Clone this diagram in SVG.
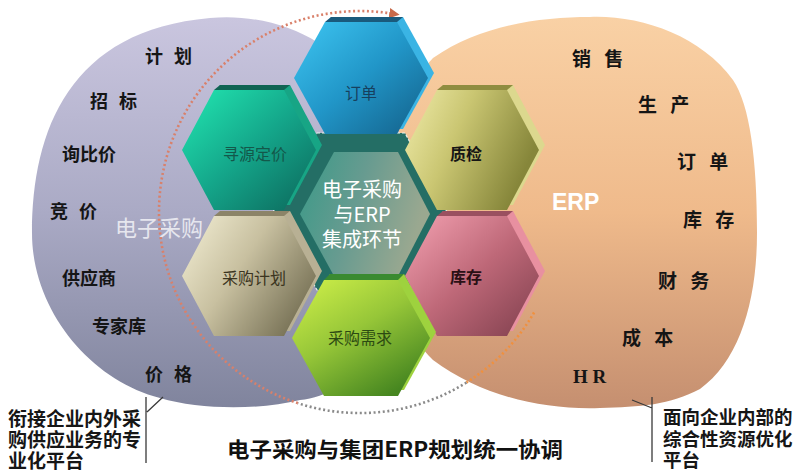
<svg xmlns="http://www.w3.org/2000/svg" width="800" height="472" viewBox="0 0 800 472">
<defs>
<linearGradient id="gLeft" x1="0" y1="0" x2="0" y2="1"><stop offset="0" stop-color="#cac6df"/><stop offset="0.5" stop-color="#aaaac5"/><stop offset="1" stop-color="#80849d"/></linearGradient>
<linearGradient id="gRight" x1="0" y1="0" x2="0" y2="1"><stop offset="0" stop-color="#f9d1a5"/><stop offset="0.5" stop-color="#efba8b"/><stop offset="1" stop-color="#c58f70"/></linearGradient>
<linearGradient id="gDing" x1="0" y1="0" x2="1" y2="1"><stop offset="0" stop-color="#3ec6f2"/><stop offset="0.5" stop-color="#2196c8"/><stop offset="1" stop-color="#135f88"/></linearGradient>
<linearGradient id="gXun" x1="0" y1="0" x2="1" y2="1"><stop offset="0" stop-color="#22e8b2"/><stop offset="0.5" stop-color="#14a68a"/><stop offset="1" stop-color="#0c665a"/></linearGradient>
<linearGradient id="gZhi" x1="0" y1="0" x2="1" y2="0.4"><stop offset="0" stop-color="#f0ecaa"/><stop offset="0.45" stop-color="#cac672"/><stop offset="1" stop-color="#86863a"/></linearGradient>
<linearGradient id="gKu" x1="0" y1="0" x2="1" y2="1"><stop offset="0" stop-color="#f4a2b2"/><stop offset="0.5" stop-color="#be6878"/><stop offset="1" stop-color="#7e3e4c"/></linearGradient>
<linearGradient id="gCai" x1="0" y1="0" x2="1" y2="0.6"><stop offset="0" stop-color="#f4f0d6"/><stop offset="0.5" stop-color="#c8c0a0"/><stop offset="1" stop-color="#7c765a"/></linearGradient>
<linearGradient id="gXu" x1="0" y1="0" x2="0.7" y2="1"><stop offset="0" stop-color="#d2f24a"/><stop offset="0.5" stop-color="#96c638"/><stop offset="1" stop-color="#468620"/></linearGradient>
<linearGradient id="gCen" x1="0" y1="0" x2="1" y2="0.3"><stop offset="0" stop-color="#3a9a88"/><stop offset="0.5" stop-color="#679b90"/><stop offset="1" stop-color="#9aa890"/></linearGradient>
<marker id="arr" viewBox="0 0 10 10" refX="2" refY="5" markerWidth="4" markerHeight="4" orient="auto" markerUnits="strokeWidth"><path d="M0,0 L10,5 L0,10 Z" fill="#c86a4a"/></marker>
<style>
.lbl{font-family:"Noto Sans CJK SC","Noto Sans",sans-serif;font-weight:bold;fill:#151515;dominant-baseline:central}
.l18{font-size:18px}
.l19{font-size:19px}
.sp{word-spacing:7px}
.sp2{word-spacing:9px}
.hx{font-family:"Noto Sans CJK SC","Noto Sans",sans-serif;font-size:16px;text-anchor:middle;dominant-baseline:central}
.call{font-family:"Noto Sans CJK SC","Noto Sans",sans-serif;font-weight:bold;fill:#161616;dominant-baseline:central}
.dot{fill:none;stroke-width:2.6;stroke-dasharray:2 2.6}
.cl{stroke:#3a3a3a;stroke-width:1.3;fill:none}
.dash{fill:none;stroke:#e8f4f0;stroke-width:1.2;stroke-dasharray:3 2}
</style>
</defs>
<rect width="800" height="472" fill="#ffffff"/>

<g id="circle-right">
<path d="M590,17 C640,15 700,35 733,80 C750,105 757,160 757,233 C757,300 740,360 700,389 C670,405 640,407 600,408 C540,410 480,395 433,360 C370,300 370,120 433,58 C480,25 540,17 590,17 Z" fill="url(#gRight)"/>
<text class="lbl l19 sp2" x="572" y="57">销 售</text>
<text class="lbl l19 sp2" x="638" y="103">生 产</text>
<text class="lbl l19 sp2" x="677" y="160">订 单</text>
<text class="lbl l19 sp2" x="683" y="218">库 存</text>
<text class="lbl l19 sp2" x="658" y="279">财 务</text>
<text class="lbl l19 sp2" x="622" y="336">成 本</text>
<text x="573" y="383" font-family="Liberation Serif,serif" font-weight="bold" font-size="19" fill="#151515">H R</text>
<text x="552" y="210" font-family="Liberation Sans,Arial,sans-serif" font-weight="bold" font-size="23" fill="#ffffff">ERP</text>
</g>

<g id="circle-left">
<path d="M32,233 C32,130 70,30 210,18 C250,14 290,25 317,42 C380,80 420,150 420,220 C420,320 360,395 300,400 C260,410 200,410 160,398 C90,380 32,310 32,233 Z" fill="url(#gLeft)"/>
<text class="lbl l18 sp" x="145" y="55">计 划</text>
<text class="lbl l18 sp" x="90" y="100">招 标</text>
<text class="lbl l18" x="62" y="153">询比价</text>
<text class="lbl l18 sp" x="50" y="210">竞 价</text>
<text class="lbl l18" x="62" y="277">供应商</text>
<text class="lbl l18" x="92" y="325">专家库</text>
<text class="lbl l18 sp" x="145" y="373">价 格</text>
<text x="115" y="226" font-family="Noto Sans CJK SC,sans-serif" font-size="22" fill="#e6e6ee" dominant-baseline="central">电子采购</text>
</g>

<g id="connectors">
<path class="dot" stroke="#f0903e" d="M534.1,312.5 A201,201 0 0 1 466.5,382.5"/>
<path class="dot" stroke="#8a8a8a" d="M466.5,382.5 A201,201 0 0 1 297.9,403.2"/>
<path class="dot" stroke="#d9806a" d="M297.9,403.2 A201,201 0 0 1 391.4,13.5" marker-end="url(#arr)"/>
<path class="cl" d="M163,397 L147,412 M146,397 L146,463"/>
<path class="cl" d="M632,400 L652,408 M652,397 L652,462"/>
</g>

<g id="hex-center">
<polygon points="317,133 405,133 447,212 408,290 317,290 273,212" fill="#246e65"/>
<polygon points="317,133 405,133 447,212 408,290 317,290 273,212" class="dash"/>
<polygon points="334,152 398,152 430,214 398,276 334,276 300,214" fill="url(#gCen)"/>
<text x="362" y="188" font-family="Noto Sans CJK SC,sans-serif" font-size="20" fill="#ffffff" text-anchor="middle" dominant-baseline="central">电子采购</text>
<text x="362" y="213" font-family="Noto Sans CJK SC,sans-serif" font-size="20" fill="#ffffff" text-anchor="middle" dominant-baseline="central">与ERP</text>
<text x="362" y="238" font-family="Noto Sans CJK SC,sans-serif" font-size="20" fill="#ffffff" text-anchor="middle" dominant-baseline="central">集成环节</text>
</g>

<g id="hex-dingdan">
<polygon points="331,17 403,17 434,73 403,129 331,129 300,73" fill="#3ab4e4"/>
<polygon points="325,22 397,22 403,17 331,17" fill="#1a5a7c"/>
<polygon points="325,22 397,22 428,78 397,134 325,134 294,78" fill="url(#gDing)"/>
<text class="hx" x="361" y="92" fill="#17405e" font-size="15">订单</text>
</g>

<g id="hex-xunyuan">
<polygon points="220,85 290,85 322,145 290,205 220,205 188,145" fill="#17a585"/>
<polygon points="214,90 284,90 290,85 220,85" fill="#0f6453"/>
<polygon points="214,90 284,90 316,150 284,210 214,210 182,150" fill="url(#gXun)"/>
<text class="hx" x="255" y="153" fill="#13584a">寻源定价</text>
</g>

<g id="hex-zhijian">
<polygon points="443,85 513,85 545,145 513,205 443,205 411,145" fill="#dcd88e"/>
<polygon points="437,90 507,90 513,85 443,85" fill="#8f8d40"/>
<polygon points="437,90 507,90 539,150 507,210 437,210 405,150" fill="url(#gZhi)"/>
<text class="hx" x="466" y="153" fill="#151515" font-weight="bold">质检</text>
</g>

<g id="hex-caigoujihua">
<polygon points="220,211 290,211 322,271 290,331 220,331 188,271" fill="#b8b094"/>
<polygon points="214,216 284,216 290,211 220,211" fill="#8c8468"/>
<polygon points="214,216 284,216 316,276 284,336 214,336 182,276" fill="url(#gCai)"/>
<text class="hx" x="254" y="277" fill="#3a3420">采购计划</text>
</g>

<g id="hex-kucun">
<polygon points="443,211 513,211 545,271 513,331 443,331 411,271" fill="#e890a0"/>
<polygon points="437,216 507,216 513,211 443,211" fill="#9a5060"/>
<polygon points="437,216 507,216 539,276 507,336 437,336 405,276" fill="url(#gKu)"/>
<text class="hx" x="466" y="276" fill="#2a1015" font-weight="bold">库存</text>
</g>

<g id="hex-xuqiu">
<polygon points="330,274 404,274 436,332 404,390 330,390 298,332" fill="#9ed23e"/>
<polygon points="324,280 398,280 404,274 330,274" fill="#3a8a30"/>
<polygon points="324,280 398,280 430,338 398,396 324,396 292,338" fill="url(#gXu)"/>
<text class="hx" x="360" y="337" fill="#2c4a12">采购需求</text>
</g>

<g id="note-left">
<text class="call" font-size="19" x="8" y="417">衔接企业内外采</text>
<text class="call" font-size="19" x="8" y="438">购供应业务的专</text>
<text class="call" font-size="19" x="8" y="459">业化平台</text>
</g>

<g id="note-right">
<text class="call" font-size="18.5" x="663" y="416">面向企业内部的</text>
<text class="call" font-size="18.5" x="663" y="438">综合性资源优化</text>
<text class="call" font-size="18.5" x="663" y="459">平台</text>
</g>

<g id="title">
<text x="227" y="448" font-family="Noto Sans CJK SC,sans-serif" font-size="21" font-weight="bold" fill="#111111" dominant-baseline="central" textLength="336" lengthAdjust="spacingAndGlyphs">电子采购与集团ERP规划统一协调</text>
</g>
</svg>
